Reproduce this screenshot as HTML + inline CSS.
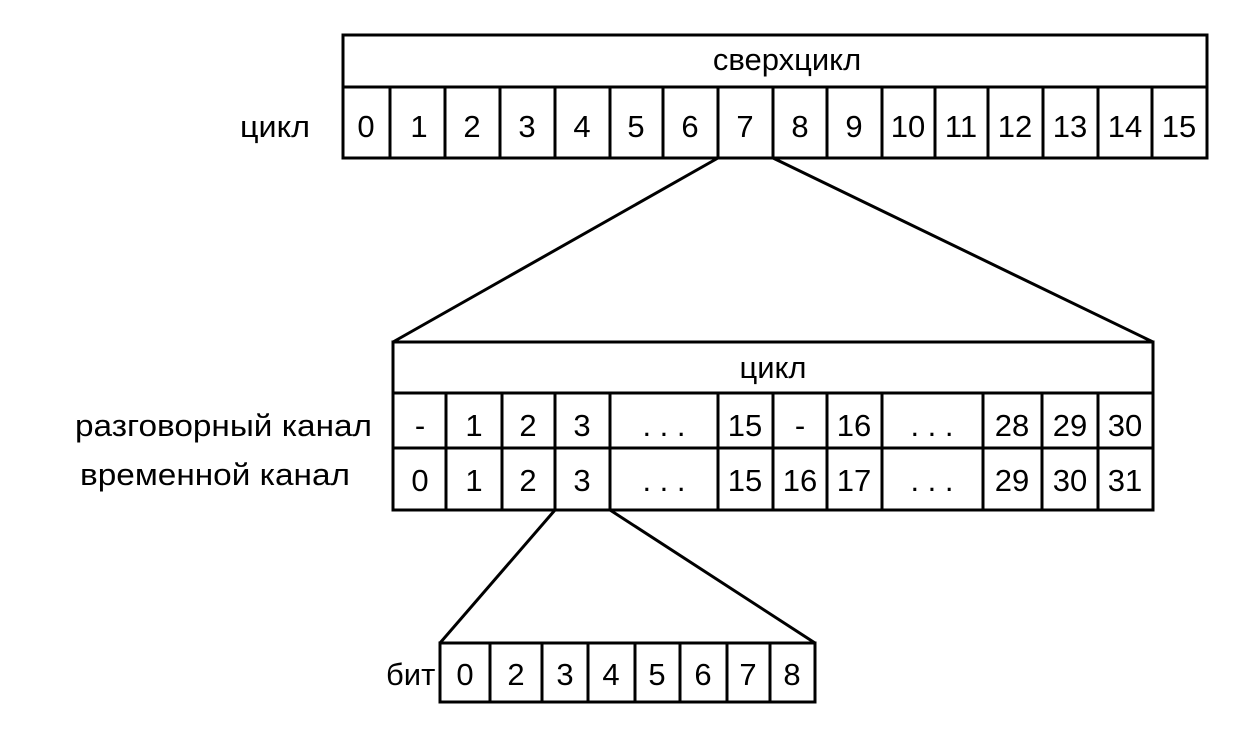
<!DOCTYPE html>
<html><head><meta charset="utf-8"><style>
body{margin:0;background:#fff}
svg text{font-family:"Liberation Sans",sans-serif;font-size:31px;fill:#000}
</style></head><body>
<svg width="1252" height="724" viewBox="0 0 1252 724" xmlns="http://www.w3.org/2000/svg">
<g stroke="#000" stroke-width="3" fill="none">
<rect x="343" y="35" width="864" height="123"/>
<line x1="343" y1="87" x2="1207" y2="87"/>
<path d="M390 87V158M445 87V158M500 87V158M555 87V158M610 87V158M663 87V158M718 87V158M773 87V158M827 87V158M882 87V158M935 87V158M988 87V158M1043 87V158M1098 87V158M1152 87V158"/>
<line x1="718" y1="158" x2="393" y2="342"/>
<line x1="773" y1="158" x2="1153" y2="342"/>
<rect x="393" y="342" width="760" height="168"/>
<line x1="393" y1="393" x2="1153" y2="393"/>
<line x1="393" y1="448" x2="1153" y2="448"/>
<path d="M446 393V510M502 393V510M555 393V510M610 393V510M718 393V510M773 393V510M827 393V510M882 393V510M983 393V510M1042 393V510M1098 393V510"/>
<line x1="555" y1="510" x2="440" y2="643"/>
<line x1="610" y1="510" x2="815" y2="643"/>
<rect x="440" y="643" width="375" height="59"/>
<path d="M490 643V702M542 643V702M588 643V702M635 643V702M680 643V702M727 643V702M770 643V702"/>
</g>
<g text-anchor="middle">
<text x="787" y="70">сверхцикл</text>
<text x="366" y="137">0</text><text x="419" y="137">1</text><text x="472" y="137">2</text><text x="527" y="137">3</text><text x="582" y="137">4</text><text x="636" y="137">5</text><text x="690" y="137">6</text><text x="745" y="137">7</text><text x="800" y="137">8</text><text x="854" y="137">9</text><text x="908" y="137">10</text><text x="961" y="137">11</text><text x="1015" y="137">12</text><text x="1070" y="137">13</text><text x="1125" y="137">14</text><text x="1179" y="137">15</text>
<text x="773" y="378">цикл</text>
<text x="420" y="436">-</text><text x="474" y="436">1</text><text x="528" y="436">2</text><text x="582" y="436">3</text><text x="664" y="436">. . .</text><text x="745" y="436">15</text><text x="800" y="436">-</text><text x="854" y="436">16</text><text x="932" y="436">. . .</text><text x="1012" y="436">28</text><text x="1070" y="436">29</text><text x="1125" y="436">30</text>
<text x="420" y="491">0</text><text x="474" y="491">1</text><text x="528" y="491">2</text><text x="582" y="491">3</text><text x="664" y="491">. . .</text><text x="745" y="491">15</text><text x="800" y="491">16</text><text x="854" y="491">17</text><text x="932" y="491">. . .</text><text x="1012" y="491">29</text><text x="1070" y="491">30</text><text x="1125" y="491">31</text>
<text x="465" y="685">0</text><text x="516" y="685">2</text><text x="565" y="685">3</text><text x="611" y="685">4</text><text x="657" y="685">5</text><text x="703" y="685">6</text><text x="748" y="685">7</text><text x="792" y="685">8</text>
</g>
<text x="240" y="137" textLength="70" lengthAdjust="spacingAndGlyphs">цикл</text>
<text x="75" y="436" textLength="297" lengthAdjust="spacingAndGlyphs">разговорный канал</text>
<text x="80" y="485" textLength="270" lengthAdjust="spacingAndGlyphs">временной канал</text>
<text x="386" y="685">бит</text>
</svg>
</body></html>
